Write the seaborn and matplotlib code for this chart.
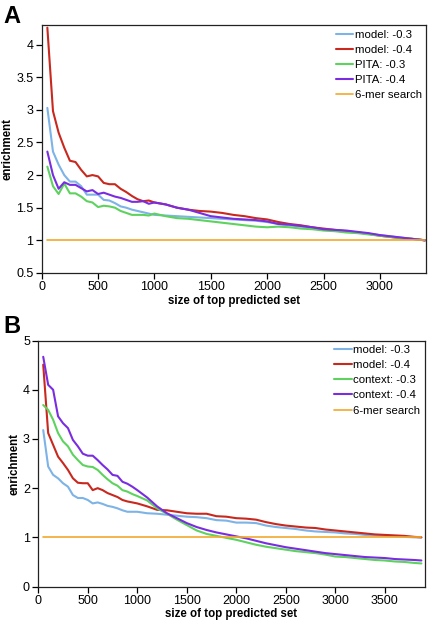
import pandas as pd
import matplotlib
matplotlib.use('Agg')
import matplotlib.pyplot as plt
import seaborn as sns

sns.set_style('ticks')
plt.rcParams['font.family'] = ['Liberation Sans', 'DejaVu Sans']
plt.rcParams.update({'text.color': 'black', 'axes.labelcolor': 'black',
                     'xtick.color': 'black', 'ytick.color': 'black'})

# panel A data
xa = [50, 100, 150, 200, 250, 300, 350, 400, 450, 500, 550, 600, 650, 700, 750, 800, 850, 900, 950, 1000,
      1100, 1200, 1300, 1400, 1500, 1600, 1700, 1800, 1900, 2000, 2100, 2200, 2300, 2400, 2500, 2600,
      2700, 2800, 2900, 3000, 3100, 3200, 3300, 3400]
a_model_03 = [3.03, 2.36, 2.16, 2.00, 1.90, 1.90, 1.83, 1.70, 1.70, 1.70, 1.62, 1.61, 1.57, 1.52, 1.50, 1.47,
              1.45, 1.43, 1.41, 1.39, 1.38, 1.37, 1.36, 1.35, 1.34, 1.33, 1.32, 1.31, 1.30, 1.28, 1.25, 1.23,
              1.21, 1.19, 1.16, 1.15, 1.13, 1.12, 1.10, 1.08, 1.06, 1.04, 1.02, 1.00]
a_model_04 = [4.26, 2.98, 2.65, 2.42, 2.22, 2.20, 2.08, 1.98, 2.00, 1.98, 1.88, 1.86, 1.86, 1.79, 1.74, 1.68,
              1.63, 1.60, 1.61, 1.58, 1.55, 1.50, 1.47, 1.45, 1.44, 1.42, 1.39, 1.37, 1.34, 1.32, 1.28, 1.25,
              1.23, 1.20, 1.18, 1.16, 1.14, 1.12, 1.10, 1.07, 1.05, 1.03, 1.02, 1.00]
a_pita_03 = [2.13, 1.83, 1.71, 1.87, 1.72, 1.72, 1.67, 1.60, 1.58, 1.51, 1.53, 1.52, 1.50, 1.45, 1.42, 1.39,
             1.39, 1.39, 1.38, 1.41, 1.37, 1.34, 1.33, 1.31, 1.29, 1.27, 1.25, 1.23, 1.21, 1.20, 1.21, 1.20,
             1.18, 1.17, 1.15, 1.14, 1.12, 1.11, 1.09, 1.07, 1.05, 1.03, 1.02, 1.00]
a_pita_04 = [2.36, 2.00, 1.79, 1.89, 1.85, 1.85, 1.80, 1.75, 1.77, 1.71, 1.73, 1.70, 1.67, 1.65, 1.62, 1.59,
             1.59, 1.60, 1.56, 1.58, 1.55, 1.50, 1.47, 1.42, 1.37, 1.35, 1.33, 1.32, 1.31, 1.29, 1.25, 1.24,
             1.22, 1.20, 1.17, 1.16, 1.15, 1.13, 1.11, 1.08, 1.06, 1.04, 1.02, 1.00]

# panel B data
xb = [50, 100, 150, 200, 250, 300, 350, 400, 450, 500, 550, 600, 650, 700, 750, 800, 850, 900, 950, 1000,
      1100, 1200, 1300, 1400, 1500, 1600, 1700, 1800, 1900, 2000, 2100, 2200, 2300, 2400, 2500, 2600,
      2700, 2800, 2900, 3000, 3100, 3200, 3300, 3400, 3500, 3600, 3700, 3800, 3870]
b_model_03 = [3.18, 2.44, 2.27, 2.20, 2.10, 2.03, 1.86, 1.80, 1.80, 1.76, 1.69, 1.71, 1.68, 1.64, 1.62, 1.59,
              1.55, 1.52, 1.52, 1.52, 1.49, 1.48, 1.46, 1.44, 1.42, 1.41, 1.39, 1.35, 1.34, 1.30, 1.30, 1.29,
              1.24, 1.21, 1.19, 1.17, 1.14, 1.12, 1.11, 1.10, 1.08, 1.07, 1.05, 1.04, 1.03, 1.02, 1.01, 1.00, 1.00]
b_model_04 = [4.51, 3.12, 2.88, 2.64, 2.51, 2.37, 2.20, 2.11, 2.10, 2.10, 1.96, 2.00, 1.96, 1.90, 1.86, 1.82,
              1.76, 1.73, 1.71, 1.69, 1.63, 1.56, 1.55, 1.52, 1.49, 1.48, 1.48, 1.43, 1.42, 1.39, 1.38, 1.36,
              1.31, 1.27, 1.24, 1.22, 1.20, 1.19, 1.16, 1.14, 1.12, 1.10, 1.08, 1.06, 1.05, 1.04, 1.03, 1.01, 1.00]
b_context_03 = [3.69, 3.59, 3.39, 3.12, 2.95, 2.85, 2.68, 2.57, 2.47, 2.44, 2.43, 2.37, 2.27, 2.18, 2.10, 2.05,
                1.96, 1.93, 1.88, 1.84, 1.75, 1.59, 1.48, 1.36, 1.25, 1.14, 1.07, 1.03, 0.99, 0.95, 0.90, 0.85,
                0.81, 0.78, 0.75, 0.72, 0.70, 0.68, 0.65, 0.61, 0.60, 0.58, 0.56, 0.54, 0.53, 0.51, 0.50, 0.48, 0.47]
b_context_04 = [4.67, 4.10, 4.00, 3.46, 3.32, 3.22, 2.98, 2.85, 2.70, 2.66, 2.66, 2.57, 2.47, 2.38, 2.27, 2.25,
                2.13, 2.09, 2.03, 1.96, 1.81, 1.63, 1.49, 1.39, 1.29, 1.21, 1.15, 1.10, 1.06, 1.02, 0.98, 0.93,
                0.88, 0.84, 0.80, 0.77, 0.74, 0.71, 0.68, 0.66, 0.64, 0.62, 0.60, 0.59, 0.58, 0.56, 0.55, 0.54, 0.53]

blue, red, green, purple, orange = '#7db3e6', '#c8281e', '#5ed25e', '#7a2de0', '#f2a92e'

fig = plt.figure(figsize=(4.3, 6.26), dpi=100)
ax_a = fig.add_axes([0.097, 0.564, 0.894, 0.396])
ax_b = fig.add_axes([0.089, 0.063, 0.899, 0.393])


def draw(ax, x, series, xmax, ylim, yticks, xticks):
    for y, color, label in series:
        sns.lineplot(x=x, y=y, ax=ax, color=color, label=label, linewidth=1.5)
    sns.lineplot(x=[x[0], x[-1]], y=[1, 1], ax=ax, color=orange, label='6-mer search', linewidth=1.2)
    ax.set_xlim(0, xmax)
    ax.set_ylim(*ylim)
    ax.set_yticks(yticks)
    ax.set_yticklabels([f'{t:g}' for t in yticks])
    ax.set_xticks(xticks)
    ax.tick_params(bottom=True, left=True, direction='out', labelsize=9, length=4, width=0.9, pad=2)
    ax.set_xlabel('size of top predicted set', fontsize=8.3, fontweight='bold', labelpad=1)
    ax.set_ylabel('enrichment', fontsize=8.3, fontweight='bold', labelpad=2)
    for s in ax.spines.values():
        s.set_visible(True)
        s.set_linewidth(0.9)
        s.set_color('#222222')
    ax.legend(loc='upper right', frameon=False, fontsize=8.2, handlelength=1.5,
              handletextpad=0.15, labelspacing=0.45, borderaxespad=0.2, borderpad=0.2)


draw(ax_a, xa,
     [(a_model_03, blue, 'model: -0.3'), (a_model_04, red, 'model: -0.4'),
      (a_pita_03, green, 'PITA: -0.3'), (a_pita_04, purple, 'PITA: -0.4')],
     3410, (0.5, 4.3), [0.5, 1, 1.5, 2, 2.5, 3, 3.5, 4], [0, 500, 1000, 1500, 2000, 2500, 3000])
draw(ax_b, xb,
     [(b_model_03, blue, 'model: -0.3'), (b_model_04, red, 'model: -0.4'),
      (b_context_03, green, 'context: -0.3'), (b_context_04, purple, 'context: -0.4')],
     3905, (0, 5), [0, 1, 2, 3, 4, 5], [0, 500, 1000, 1500, 2000, 2500, 3000, 3500])

fig.text(0.008, 0.992, 'A', fontsize=17, fontweight='bold', va='top', ha='left')
fig.text(0.008, 0.497, 'B', fontsize=17, fontweight='bold', va='top', ha='left')

fig.savefig('out.png', dpi=100)
